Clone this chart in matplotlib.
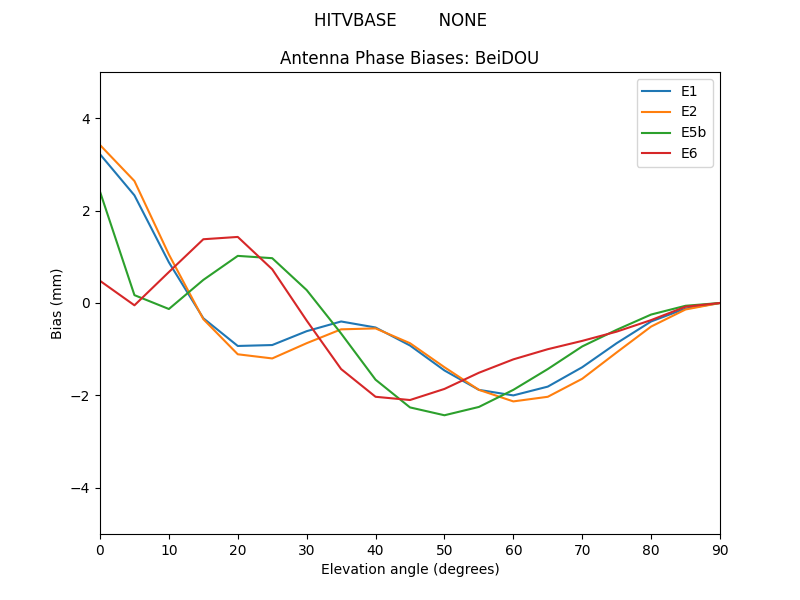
import numpy as np
import matplotlib
matplotlib.use('Agg')
import matplotlib.pyplot as plt

# Elevation grid (degrees)
elev = [0, 5, 10, 15, 20, 25, 30, 35, 40, 45, 50, 55, 60, 65, 70, 75, 80, 85, 90]

# Phase biases per signal (mm)
e1 = [3.22, 2.33, 0.88, -0.33, -0.93, -0.91, -0.61, -0.40, -0.53, -0.92, -1.46, -1.88, -2.00, -1.81, -1.39, -0.87, -0.40, -0.12, 0.0]
e2 = [3.42, 2.64, 1.05, -0.35, -1.11, -1.20, -0.87, -0.57, -0.55, -0.87, -1.39, -1.88, -2.13, -2.03, -1.64, -1.07, -0.51, -0.14, 0.0]
e5b = [2.41, 0.17, -0.13, 0.50, 1.02, 0.97, 0.28, -0.66, -1.66, -2.26, -2.43, -2.25, -1.88, -1.43, -0.94, -0.58, -0.25, -0.06, 0.0]
e6 = [0.48, -0.05, 0.67, 1.38, 1.43, 0.73, -0.38, -1.43, -2.03, -2.10, -1.86, -1.51, -1.22, -1.00, -0.82, -0.62, -0.37, -0.08, 0.0]

labels = ['E1', 'E2', 'E5b', 'E6']

fig, ax = plt.subplots(figsize=(8, 6), dpi=100)
for vals, lab in zip([e1, e2, e5b, e6], labels):
    ax.plot(elev, vals, label=lab)

fig.suptitle('HITVBASE        NONE')
ax.set_title('Antenna Phase Biases: BeiDOU')
ax.set_xlabel('Elevation angle (degrees)')
ax.set_ylabel('Bias (mm)')
ax.set_xlim(0, 90)
ax.set_ylim(-5, 5)
ax.legend(loc='upper right')

fig.savefig('out.png')
